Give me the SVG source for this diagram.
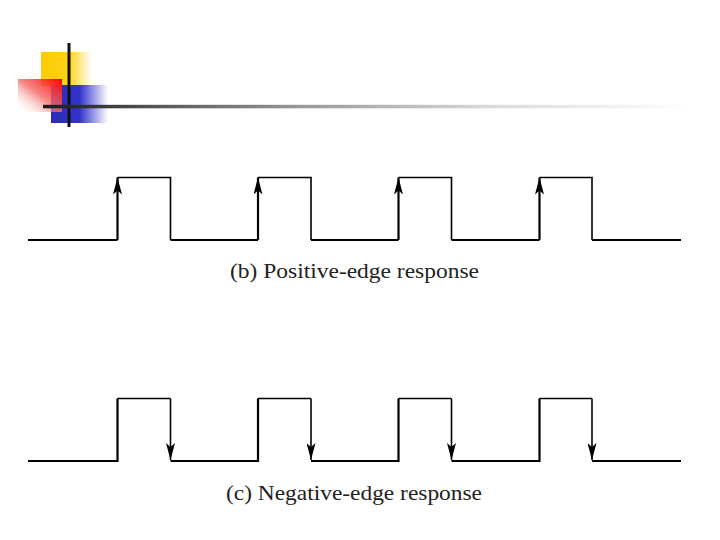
<svg xmlns="http://www.w3.org/2000/svg" width="720" height="540" viewBox="0 0 720 540">
<defs>
<linearGradient id="gy" x1="0" y1="0" x2="1" y2="0"><stop offset="0" stop-color="#ffcc00"/><stop offset="0.55" stop-color="#ffd21a"/><stop offset="1" stop-color="#ffcc00" stop-opacity="0"/></linearGradient>
<linearGradient id="gb" x1="0" y1="0" x2="1" y2="0"><stop offset="0" stop-color="#2b2bb8"/><stop offset="0.5" stop-color="#3333cc"/><stop offset="1" stop-color="#3333cc" stop-opacity="0"/></linearGradient>
<linearGradient id="gr" x1="1" y1="0" x2="0" y2="1"><stop offset="0" stop-color="#ff0000"/><stop offset="0.5" stop-color="#f56a6a" stop-opacity="0.8"/><stop offset="1" stop-color="#ffffff" stop-opacity="0"/></linearGradient>
<linearGradient id="gl" x1="0" y1="0" x2="1" y2="0"><stop offset="0" stop-color="#1a1a1a"/><stop offset="0.17" stop-color="#555"/><stop offset="0.4" stop-color="#999"/><stop offset="0.7" stop-color="#dcdcdc"/><stop offset="1" stop-color="#fff"/></linearGradient>
<marker id="ah" viewBox="0 0 17 9" refX="17" refY="4.5" markerWidth="17" markerHeight="9" markerUnits="userSpaceOnUse" orient="auto"><path d="M17 4.5 L0 0 L4 4.5 L0 9 Z" fill="#000"/></marker>
</defs>
<style>
.w{fill:none;stroke:#000;stroke-linejoin:miter}
.lo{stroke-width:2.2}
.hi{stroke-width:1.6}
.lbl{font-family:"Liberation Serif","Times New Roman",serif;font-size:22px;fill:#222}
</style>
<g id="logo">
<rect x="41" y="52" width="50" height="34" fill="url(#gy)"/>
<rect x="51" y="85" width="57" height="38" fill="url(#gb)"/>
<rect x="18" y="79" width="44" height="33" fill="url(#gr)"/>
<line x1="69" y1="43" x2="69" y2="127" stroke="#111" stroke-width="3"/>
<rect x="43" y="104.8" width="650" height="3.5" fill="url(#gl)"/>
</g>
<g id="positive-waveform">
<path class="w lo" d="M28 240 H117.5 M170.5 240 H258 M311 240 H398.5 M451.5 240 H539.5 M592 240 H681"/>
<path class="w hi" d="M117.5 177.5 H170.5 V240 M258 177.5 H311 V240 M398.5 177.5 H451.5 V240 M539.5 177.5 H592 V240"/>
</g>
<g id="connectors">
<line class="w lo" x1="117.5" y1="240" x2="117.5" y2="177.5" marker-end="url(#ah)"/>
<line class="w lo" x1="258" y1="240" x2="258" y2="177.5" marker-end="url(#ah)"/>
<line class="w lo" x1="398.5" y1="240" x2="398.5" y2="177.5" marker-end="url(#ah)"/>
<line class="w lo" x1="539.5" y1="240" x2="539.5" y2="177.5" marker-end="url(#ah)"/>
<line class="w hi" x1="170.5" y1="398.5" x2="170.5" y2="460" marker-end="url(#ah)"/>
<line class="w hi" x1="311" y1="398.5" x2="311" y2="460" marker-end="url(#ah)"/>
<line class="w hi" x1="451.5" y1="398.5" x2="451.5" y2="460" marker-end="url(#ah)"/>
<line class="w hi" x1="592" y1="398.5" x2="592" y2="460" marker-end="url(#ah)"/>
</g>
<g id="negative-waveform">
<path class="w lo" d="M28 461 H117.5 V398.5 M170.5 461 H258 V398.5 M311 461 H398.5 V398.5 M451.5 461 H539.5 V398.5 M592 461 H681"/>
<path class="w hi" d="M117.5 398.5 H170.5 M258 398.5 H311 M398.5 398.5 H451.5 M539.5 398.5 H592"/>
</g>
<g id="labels">
<text class="lbl" x="230" y="278" textLength="249" lengthAdjust="spacingAndGlyphs">(b) Positive-edge response</text>
<text class="lbl" x="226" y="500" textLength="256" lengthAdjust="spacingAndGlyphs">(c) Negative-edge response</text>
</g>
</svg>
